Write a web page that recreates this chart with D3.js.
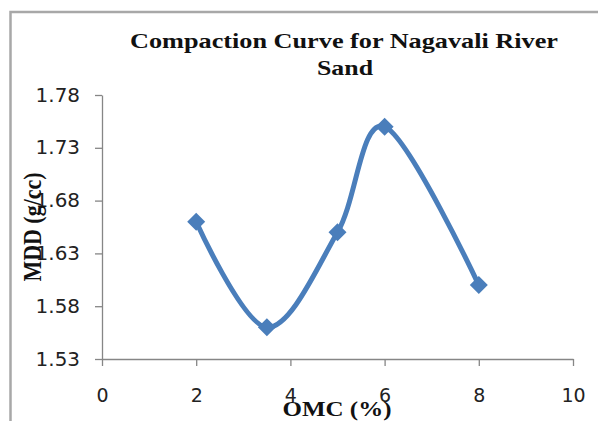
<!DOCTYPE html>
<html>
<head>
<meta charset="utf-8">
<script src="https://cdn.jsdelivr.net/npm/d3@7"></script>
<style>
  html, body { margin: 0; padding: 0; background: #fff; }
  svg { display: block; }
</style>
</head>
<body>
<svg id="chart" width="598" height="421"></svg>
<script>
// Compaction test results: optimum moisture content vs maximum dry density
const omc = [2, 3.5, 5, 6, 8];          // OMC (%)
const mdd = [1.66, 1.56, 1.65, 1.75, 1.60]; // MDD (g/cc)
const xTicks = [0, 2, 4, 6, 8, 10];
const yTicks = [1.53, 1.58, 1.63, 1.68, 1.73, 1.78];
const titleLines = ["Compaction Curve for Nagavali River", "Sand"];
const xTitle = "OMC (%)";
const yTitle = "MDD (g/cc)";

const svg = d3.select("#chart");
const W = 598, H = 421;
const plot = { left: 102, right: 573, top: 95, bottom: 359 };

const x = d3.scaleLinear().domain([0, 10]).range([plot.left, plot.right]);
const y = d3.scaleLinear().domain([1.53, 1.78]).range([plot.bottom, plot.top]);

// chart frame (top and left edges)
svg.append("path")
  .attr("d", `M${W},12 H10.5 V${H}`)
  .attr("fill", "none")
  .attr("stroke", "#a8a8a8")
  .attr("stroke-width", 2.5);

const axisColor = "#868686";
const tickFont = "'DejaVu Sans', sans-serif";

// y axis
const gy = svg.append("g")
  .attr("transform", `translate(${plot.left},0)`)
  .call(d3.axisLeft(y).tickValues(yTicks).tickFormat(d3.format(".2f"))
    .tickSize(7).tickSizeOuter(0).tickPadding(15));
gy.select(".domain").attr("stroke", axisColor).attr("stroke-width", 1.3);
gy.selectAll(".tick line").attr("stroke", axisColor).attr("stroke-width", 1.3);
gy.selectAll(".tick text")
  .attr("font-family", tickFont).attr("font-size", 19).attr("fill", "#222")
  .attr("transform", "scale(1.05,1)")
  .attr("x", -22 / 1.05);

// x axis
const gx = svg.append("g")
  .attr("transform", `translate(0,${plot.bottom})`)
  .call(d3.axisBottom(x).tickValues(xTicks).tickFormat(d3.format("d"))
    .tickSize(7).tickSizeOuter(0));
gx.select(".domain").attr("stroke", axisColor).attr("stroke-width", 1.3);
gx.selectAll(".tick line").attr("stroke", axisColor).attr("stroke-width", 1.3);
gx.selectAll(".tick text")
  .attr("font-family", tickFont).attr("font-size", 19).attr("fill", "#222")
  .attr("dy", null).attr("y", 43);

// title
const serif = "'Liberation Serif', 'Times New Roman', serif";
const title = svg.append("text")
  .attr("font-family", serif).attr("font-weight", "bold")
  .attr("font-size", 22).attr("fill", "#111")
  .attr("text-anchor", "middle");
title.append("tspan").attr("x", 344).attr("y", 48)
  .attr("textLength", 428).attr("lengthAdjust", "spacingAndGlyphs")
  .text(titleLines[0]);
title.append("tspan").attr("x", 345).attr("y", 75)
  .attr("textLength", 56).attr("lengthAdjust", "spacingAndGlyphs")
  .text(titleLines[1]);

// axis titles
svg.append("text")
  .attr("x", 337).attr("y", 416)
  .attr("font-family", serif).attr("font-weight", "bold")
  .attr("font-size", 22).attr("fill", "#111")
  .attr("text-anchor", "middle")
  .attr("textLength", 109).attr("lengthAdjust", "spacingAndGlyphs")
  .text(xTitle);

svg.append("text")
  .attr("transform", "translate(41,227) rotate(-90) scale(1,1.15)")
  .attr("font-family", serif).attr("font-weight", "bold")
  .attr("font-size", 22).attr("fill", "#111")
  .attr("text-anchor", "middle")
  .text(yTitle);

// smoothed series line
const points = omc.map((v, i) => [v, mdd[i]]);
const blue = "#4a7ebb";
svg.append("path")
  .datum(points)
  .attr("fill", "none")
  .attr("stroke", blue)
  .attr("stroke-width", 5)
  .attr("stroke-linejoin", "round")
  .attr("d", d3.line().x(d => x(d[0])).y(d => y(d[1])).curve(d3.curveCatmullRom.alpha(0)));

// diamond markers
svg.append("g").selectAll("path")
  .data(points)
  .join("path")
  .attr("transform", d => `translate(${x(d[0])},${y(d[1])})`)
  .attr("d", "M0,-9 L9,0 L0,9 L-9,0 Z")
  .attr("fill", blue);
</script>
</body>
</html>
